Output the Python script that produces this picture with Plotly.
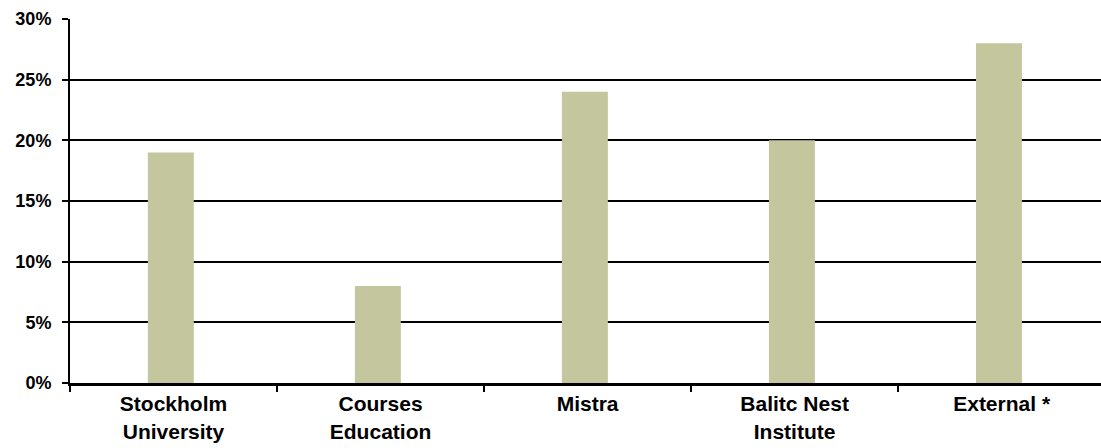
import plotly.graph_objects as go

categories = ["Stockholm<br>University", "Courses<br>Education", "Mistra", "Balitc Nest<br>Institute", "External *"]
values = [19, 8, 24, 20, 28]
y_ticks = [0, 5, 10, 15, 20, 25, 30]
y_ticktext = ["0%", "5%", "10%", "15%", "20%", "25%", "30%"]

fig = go.Figure()
fig.add_trace(go.Bar(
    x=list(range(len(categories))),
    y=values,
    width=0.222,
    offset=-0.124,
    marker=dict(color="#C4C69E", line=dict(width=0)),
    hoverinfo="skip",
))

fig.update_layout(
    width=1101, height=448,
    margin=dict(l=70, r=0, t=19, b=65),
    paper_bgcolor="white", plot_bgcolor="white",
    showlegend=False,
    font=dict(family="Liberation Sans, Arial, sans-serif", color="black"),
)
fig.update_xaxes(
    range=[-0.5, 4.48],
    tickmode="array",
    tickvals=list(range(len(categories))),
    ticktext=[f"<b>{c}</b>" for c in categories],
    tickfont=dict(family="Liberation Sans Narrow, Arial Narrow, Liberation Sans, sans-serif", size=21, color="black"),
    showline=True, linecolor="black", linewidth=3,
    ticks="", showgrid=False, zeroline=False,
)
# category boundary ticks
fig.update_xaxes(minor=dict(tickvals=[-0.5, 0.5, 1.5, 2.5, 3.5, 4.5], ticks="outside", ticklen=6, tickwidth=2, tickcolor="black", showgrid=False))
fig.update_yaxes(
    range=[0, 30],
    tickmode="array",
    tickvals=y_ticks,
    ticktext=[f"<b>{t}</b>" for t in y_ticktext],
    tickfont=dict(family="Liberation Sans, Arial, sans-serif", size=18, color="black"),
    showline=True, linecolor="black", linewidth=2,
    ticks="outside", ticklen=6, tickwidth=2, tickcolor="black",
    showgrid=True, gridcolor="black", gridwidth=2,
    zeroline=False,
    ticklabelstandoff=7,
)

fig.write_html("out.html")
